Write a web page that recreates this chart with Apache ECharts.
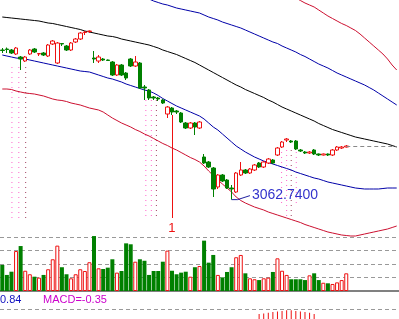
<!DOCTYPE html>
<html><head><meta charset="utf-8">
<script src="https://cdn.jsdelivr.net/npm/echarts@6/dist/echarts.min.js"></script>
<style>html,body{margin:0;padding:0;background:#fff}#c{width:399px;height:319px}</style>
</head><body><div id="c"></div>
<script>
// ---------- data ----------
const categories = Array.from({length: 87}, (_, i) => 'D' + (i + 1));
const opens  = [3362,3364,3362,3354,3348,3340,3354,3364,3354,3356,3350,3374,3336,3375,3370,3362,3378,3384,3397,3399,
                3346,3340,3344,3342,3338,3312,3332,3316,3344,3330,3336,3288,3282,3268,3266,3262,3234,3246,3240,3236,
                3216,3206,3216,3206,3148,3138,3126,3088,3112,3102,3086,3078,3112,3122,3116,3122,3136,3128,3136,3142,
                3152,3168,3182,3180,3180,3162,3158,3156,3162,3154,3152,3154,3152,3162,3166,3168];
const closes = [3361,3363,3356,3366,3344,3348,3362,3358,3355,3352,3372,3380,3376,3374,3362,3376,3384,3396,3398,3400,
                3344,3348,3342,3341,3312,3332,3312,3306,3330,3338,3286,3286,3266,3266,3264,3256,3248,3238,3238,3218,
                3206,3216,3208,3218,3136,3128,3084,3112,3100,3086,3084,3116,3122,3116,3124,3132,3128,3138,3144,3136,
                3166,3178,3184,3178,3164,3160,3156,3158,3154,3152,3154,3152,3162,3168,3168,3170];
const lows   = [3356,3356,3354,3352,3322,3338,3352,3356,3350,3350,3348,3372,3334,3370,3360,3360,3376,3382,3392,3396,
                3336,3336,3340,3340,3310,3310,3310,3302,3328,3328,3284,3262,3262,3262,3260,3254,3226,3232,3234,3216,
                3204,3204,3192,3204,3134,3126,3068,3084,3098,3084,3062.74,3076,3110,3114,3114,3120,3126,3126,3134,3134,
                3150,3166,3178,3176,3162,3158,3154,3154,3152,3150,3151,3150,3150,3160,3164,3167];
const highs  = [3366,3367,3364,3368,3350,3350,3364,3366,3356,3358,3374,3382,3378,3376,3372,3378,3386,3398,3400,3401,
                3360,3352,3346,3343,3340,3334,3334,3318,3346,3350,3338,3292,3284,3270,3268,3264,3250,3248,3242,3238,
                3218,3218,3218,3220,3154,3140,3128,3114,3114,3104,3092,3118,3138,3124,3126,3134,3138,3140,3146,3144,
                3168,3180,3186,3182,3182,3164,3160,3160,3164,3155,3155,3155,3164,3170,3170,3172];
const volumes = [1.93,1.19,1.43,2.96,3.33,1.50,1.24,1.06,0.99,1.19,1.61,2.35,3.36,1.76,1.24,0.94,1.24,1.61,1.48,2.13,
                 4.07,1.68,1.63,1.73,2.35,1.36,1.48,3.53,3.46,2.17,2.35,2.24,1.19,1.48,1.48,2.17,2.99,1.50,1.24,1.36,
                 1.43,1.06,1.76,1.85,3.73,2.10,2.67,1.19,1.01,1.41,1.76,2.50,2.67,1.31,0.94,0.87,0.81,0.94,0.99,1.41,
                 2.42,1.50,1.19,0.87,0.87,0.87,0.81,1.16,1.31,0.81,0.61,0.57,0.52,0.64,0.81,1.31];
const maLine = [3428,3427,3426,3425,3424,3423,3422,3421,3420,3418,3416,3415,3413,3411,3409,3407,3405,3403,3400,3398,
                3396,3394,3392,3390,3389,3387,3384,3382,3380,3378,3376,3374,3372,3369,3366,3362,3359,3356,3353,3349,
                3345,3341,3337,3332,3327,3322,3317,3312,3307,3302,3297,3292,3288,3283,3279,3275,3271,3267,3262,3258,
                3253,3248,3244,3240,3236,3232,3228,3224,3220,3215,3211,3207,3203,3200,3197,3194,3191,3188,3186,3184,
                3182,3180,3178,3176,3174,3171,3168];
const midBand = [3352,3350,3348,3346,3345,3344,3342,3340,3338,3336,3334,3332,3330,3328,3326,3324,3322,3320,3319,3318,
                 3315,3312,3309,3306,3304,3301,3298,3294,3291,3288,3285,3282,3280,3276,3271,3265,3260,3255,3250,3246,
                 3242,3238,3234,3230,3224,3216,3208,3202,3194,3186,3178,3170,3164,3158,3153,3148,3144,3140,3137,3134,
                 3131,3128,3125,3122,3118,3115,3112,3109,3106,3104,3101,3098,3096,3094,3092,3090,3088,3086,3085,3084,
                 3084,3084,3084,3085,3086,3086,3086];
const upperBlue = [null,null,null,null,null,null,null,null,null,null,null,null,null,null,null,null,null,null,null,null,
                   null,null,null,null,null,null,null,null,null,null,null,3468,3464,3460,3457,3454,3452,3449,3446,3444,
                   3442,3440,3438,3436,3432,3428,3425,3422,3418,3415,3412,3409,3406,3402,3398,3394,3390,3386,3382,3378,
                   3375,3370,3366,3362,3358,3353,3349,3344,3339,3334,3330,3326,3321,3316,3312,3308,3304,3300,3296,3292,
                   3287,3282,3276,3270,3264,3258,3252];
const upperRed = [null,null,null,null,null,null,null,null,null,null,null,null,null,null,null,null,null,null,null,null,
                  null,null,null,null,null,null,null,null,null,null,null,null,null,null,null,null,null,null,null,null,
                  null,null,null,null,null,null,null,null,null,null,null,null,null,null,null,null,null,null,null,null,
                  null,null,null,null,3466,3461,3456,3452,3448,3442,3436,3430,3425,3420,3415,3411,3406,3401,3394,3386,
                  3378,3370,3362,3354,3344,3332,3322];
const lowerRed = [3284,3284,3283,3280,3278,3276,3275,3274,3272,3270,3267,3264,3262,3261,3259,3256,3254,3252,3249,3246,
                  3244,3242,3238,3232,3226,3221,3216,3212,3208,3203,3199,3194,3190,3185,3180,3175,3171,3166,3162,3157,
                  3152,3147,3143,3138,3130,3120,3111,3102,3094,3086,3078,3068,3061,3056,3052,3048,3045,3042,3038,3035,
                  3032,3029,3026,3023,3020,3017,3013,3010,3007,3004,3001,2998,2996,2994,2992,2991,2990,2990,2992,2994,
                  2996,2998,3000,3002,3004,3007,3010];
const macdStart = 56;
const macdBars = [0.50,0.56,0.62,0.69,0.75,0.81,0.87,0.87,0.81,0.75,0.69,0.62,0.50];
// dotted signal columns: [position (category index), top price, bottom price]
const dotColumns = [[2.1,3328,3026],[3.6,3328,3026],[5.1,3328,3026],
                    [31.3,3262,3026],[32.5,3262,3026],[33.6,3262,3026],
                    [60.9,3168,3050],[62.0,3162,3022],[63.0,3162,3022],[64.1,3168,3050]];
const markerIndex = 37, markerLabel = '1', markerBottom = 3026;
const dea = '0.84', macdText = 'MACD=-0.35';

// ---------- chart ----------
const RED = '#ee1111', GREEN = '#008000';
const candleData = opens.map((o, i) => [o, closes[i], lows[i], highs[i]]);
const volData = volumes.map((v, i) => {
  const up = closes[i] >= opens[i];
  return {value: v, itemStyle: up ? {color: '#fff', borderColor: RED, borderWidth: 1} : {color: GREEN}};
});
const macdData = categories.map((_, i) => (i >= macdStart && i < macdStart + macdBars.length) ? macdBars[i - macdStart] : null);
let lowIdx = 0; lows.forEach((l, i) => { if (l < lows[lowIdx]) lowIdx = i; });
const lowVal = lows[lowIdx];
const lastIdx = closes.length - 1;

const W = 4.66 * categories.length;
const FONT = 'Liberation Sans';
const series = [];
dotColumns.forEach((d, k) => {
  series.push({type: 'line', xAxisIndex: 3, yAxisIndex: 0, symbol: 'none', silent: true,
    data: [[d[0], d[1]], [d[0], d[2]]],
    lineStyle: {color: (k % 3 === 2) ? '#a04060' : '#ff66cc', width: 1, type: [1, 4]}, z: 1});
});
series.push(
  {type: 'line', data: maLine, symbol: 'none', lineStyle: {color: '#000', width: 1}, z: 2},
  {type: 'line', data: midBand, symbol: 'none', lineStyle: {color: '#0000a8', width: 1}, z: 2},
  {type: 'line', data: upperBlue, symbol: 'none', lineStyle: {color: '#0000a8', width: 1}, z: 2},
  {type: 'line', data: upperRed, symbol: 'none', lineStyle: {color: '#cc1030', width: 1}, z: 2},
  {type: 'line', data: lowerRed, symbol: 'none', lineStyle: {color: '#cc1030', width: 1}, z: 2},
  {type: 'candlestick', data: candleData, barWidth: 4, z: 3,
   itemStyle: {color: '#fff', color0: GREEN, borderColor: RED, borderColor0: GREEN, borderWidth: 1},
   markLine: {symbol: ['none', 'none'], silent: true, animation: false,
     data: [
       [{coord: [categories[markerIndex], lows[markerIndex]], lineStyle: {color: RED, type: 'solid', width: 1},
         label: {show: true, position: 'end', formatter: markerLabel, color: RED, fontSize: 13, fontFamily: FONT, distance: 4}},
        {coord: [categories[markerIndex], markerBottom]}],
       [{coord: [categories[lastIdx], closes[lastIdx]], lineStyle: {color: '#888', type: [4, 3], width: 1}, label: {show: false}},
        {coord: [categories[categories.length - 1], closes[lastIdx]]}]
     ]}},
  {type: 'line', xAxisIndex: 3, yAxisIndex: 0, symbol: 'none', silent: true, z: 4,
   data: [[lowIdx, lowVal], [lowIdx + 1.3, lowVal], [lowIdx + 4.0, lowVal + 8]],
   lineStyle: {color: '#2020a0', width: 1},
   endLabel: {show: true, formatter: lowVal.toFixed(4), color: '#3333cc', fontSize: 14, fontFamily: FONT, distance: 2}},
  {type: 'bar', xAxisIndex: 1, yAxisIndex: 1, data: volData, barWidth: 4},
  {type: 'bar', xAxisIndex: 2, yAxisIndex: 2, data: macdData, barWidth: 1, itemStyle: {color: RED}}
);

const chart = echarts.init(document.getElementById('c'), null, {renderer: 'canvas'});
chart.setOption({
  animation: false,
  backgroundColor: '#fff',
  title: [
    {text: dea, left: 0, top: 294, padding: 0, textStyle: {color: '#1010c0', fontSize: 11, fontWeight: 'normal', fontFamily: FONT}},
    {text: macdText, left: 43, top: 294, padding: 0, textStyle: {color: '#cc00cc', fontSize: 11, fontWeight: 'normal', fontFamily: FONT}}
  ],
  grid: [
    {left: -1, top: 0, width: W, height: 240},
    {left: -1, top: 235, width: W, height: 56},
    {left: -1, top: 309, width: W, height: 16}
  ],
  xAxis: [
    {type: 'category', gridIndex: 0, data: categories, show: false},
    {type: 'category', gridIndex: 1, data: categories, axisLine: {show: true, lineStyle: {color: '#808080', width: 2}},
     axisTick: {show: false}, axisLabel: {show: false}, splitLine: {show: false}},
    {type: 'category', gridIndex: 2, data: categories, show: false},
    {type: 'value', gridIndex: 0, min: -0.5, max: categories.length - 0.5, show: false}
  ],
  yAxis: [
    {type: 'value', gridIndex: 0, min: 2982, max: 3462, show: false},
    {type: 'value', gridIndex: 1, min: 0, max: 4.148, interval: 1, axisLine: {show: false}, axisTick: {show: false}, axisLabel: {show: false},
     splitLine: {show: true, showMinLine: false, showMaxLine: false, lineStyle: {color: '#999', type: [4, 3]}}},
    {type: 'value', gridIndex: 2, min: 0, max: 1, interval: 1, axisLine: {show: false}, axisTick: {show: false}, axisLabel: {show: false},
     splitLine: {show: true, lineStyle: {color: '#999', type: [4, 3]}}}
  ],
  series: series
});
</script></body></html>
